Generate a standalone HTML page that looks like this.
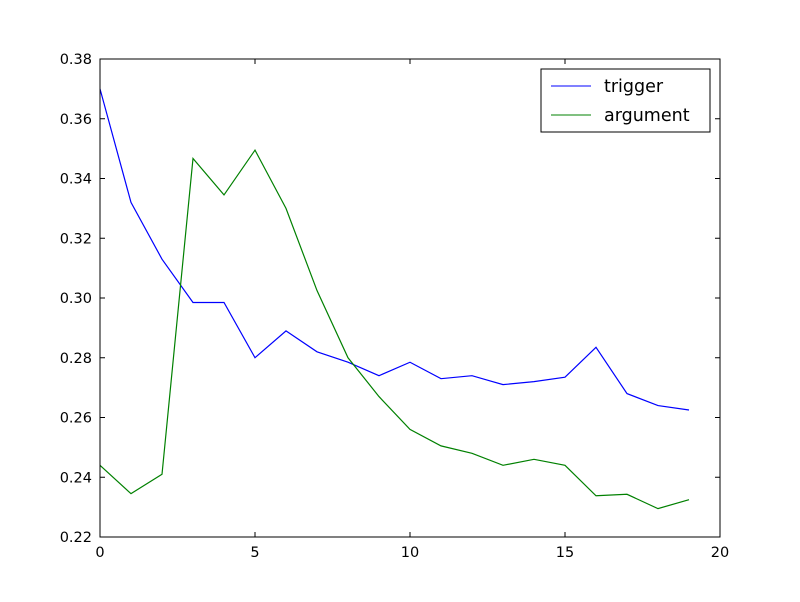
<!DOCTYPE html>
<html><head><meta charset="utf-8"><style>
body{margin:0;background:#fff}
svg text{font-family:"DejaVu Sans","Liberation Sans",sans-serif}
</style></head><body>
<svg id="chart" width="800" height="597" xmlns="http://www.w3.org/2000/svg">
<rect x="0" y="0" width="800" height="597" fill="#fff"/>
<g id="plot"></g>
<rect x="100" y="59" width="620" height="478" fill="none" stroke="#000" stroke-width="1"/>
<g id="legend">
<rect x="541" y="69" width="169" height="63" fill="#fff" stroke="#000"/>
<line x1="551" y1="86" x2="591" y2="86" stroke="#0000ff"/>
<text x="604" y="92" font-size="17.5">trigger</text>
<line x1="551" y1="115" x2="591" y2="115" stroke="#008000"/>
<text x="604" y="121" font-size="17.5">argument</text>
</g>
</svg>
<script>
const xTicks=[0,5,10,15,20];
const yTicks=[0.22,0.24,0.26,0.28,0.30,0.32,0.34,0.36,0.38];
const yTickLabels=["0.22","0.24","0.26","0.28","0.30","0.32","0.34","0.36","0.38"];
const epochs=[0,1,2,3,4,5,6,7,8,9,10,11,12,13,14,15,16,17,18,19];
const trigger=[0.370,0.332,0.313,0.2985,0.2985,0.280,0.289,0.282,0.2785,0.274,0.2785,0.273,0.274,0.271,0.272,0.2735,0.2835,0.268,0.264,0.2625];
const argument=[0.244,0.2345,0.241,0.3467,0.3345,0.3495,0.330,0.3025,0.280,0.267,0.256,0.2505,0.248,0.244,0.246,0.244,0.2338,0.2343,0.2295,0.2325];
const L=100,R=720,T=59,B=537;
const xs=v=>L+(v-0)/20*(R-L);
const ys=v=>B-(v-0.22)/0.16*(B-T);
const NS="http://www.w3.org/2000/svg";
const g=document.getElementById('plot');
function mk(t,a){const e=document.createElementNS(NS,t);for(const k in a)e.setAttribute(k,a[k]);g.appendChild(e);return e;}
xTicks.forEach(v=>{
 const x=xs(v);
 let e=mk('line',{x1:x,y1:B,x2:x,y2:B-5,stroke:'#000'});
 
 
 e=mk('line',{x1:x,y1:T,x2:x,y2:T+5,stroke:'#000'});
 
 
 e=mk('text',{x:x,y:B+20,'font-size':14.5,'text-anchor':'middle'});
 e.textContent=String(v);
 
 
});
yTicks.forEach((v,i)=>{
 const y=ys(v);
 let e=mk('line',{x1:L,y1:y,x2:L+5,y2:y,stroke:'#000'});
 
 
 e=mk('line',{x1:R,y1:y,x2:R-5,y2:y,stroke:'#000'});
 
 
 e=mk('text',{x:L-8,y:y+5,'font-size':14.5,'text-anchor':'end'});
 e.textContent=yTickLabels[i];
 
 
});
function line(data,color,name){
 const p=data.map((v,i)=>xs(epochs[i])+','+ys(v)).join(' ');
 const e=mk('polyline',{points:p,fill:'none',stroke:color,'stroke-width':1.2});
 
 
}
line(trigger,'#0000ff','trigger-line');
line(argument,'#008000','argument-line');
</script>
</body></html>
